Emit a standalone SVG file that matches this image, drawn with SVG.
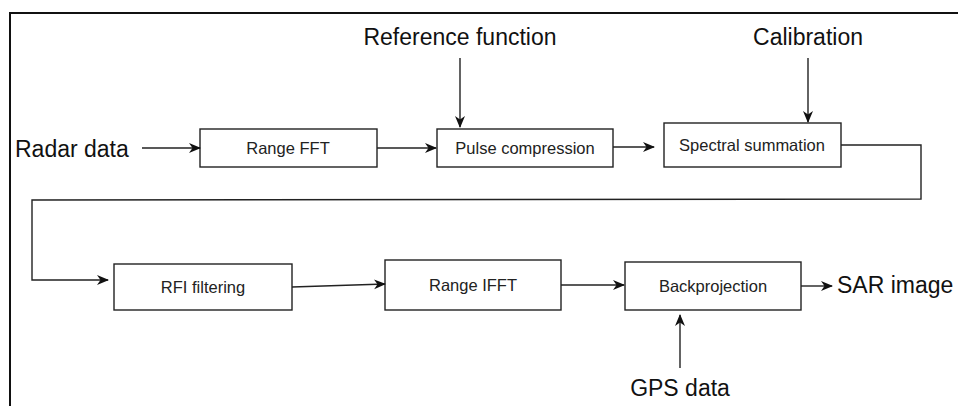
<svg xmlns="http://www.w3.org/2000/svg" width="958" height="406" viewBox="0 0 958 406">
<style>
.box{fill:#fff;stroke:#222;stroke-width:1.4}
.ln{fill:none;stroke:#222;stroke-width:1.4}
.bt{font-family:"Liberation Sans",Arial,sans-serif;font-size:16.5px;fill:#222;text-anchor:middle}
.lt{font-family:"Liberation Sans",Arial,sans-serif;font-size:23px;fill:#111}
</style>
<defs>
<marker id="ah" viewBox="0 0 12 12" refX="11" refY="6" markerWidth="12" markerHeight="12" markerUnits="userSpaceOnUse" orient="auto">
<path d="M0,1 L12,6 L0,11 L3.5,6 Z" fill="#111"/>
</marker>
</defs>
<rect width="958" height="406" fill="#fff"/>
<path d="M10,406 L10,13 L958,13" fill="none" stroke="#111" stroke-width="2"/>
<g id="labels">
<text class="lt" x="15" y="157">Radar data</text>
<text class="lt" x="460" y="45" text-anchor="middle">Reference function</text>
<text class="lt" x="808" y="45" text-anchor="middle">Calibration</text>
<text class="lt" x="837" y="293">SAR image</text>
<text class="lt" x="680" y="396" text-anchor="middle">GPS data</text>
</g>
<g id="range-fft"><rect class="box" x="200" y="129" width="177" height="38"/><text class="bt" x="288" y="154">Range FFT</text></g>
<g id="pulse-compression"><rect class="box" x="437" y="129" width="176" height="38"/><text class="bt" x="525" y="154">Pulse compression</text></g>
<g id="spectral-summation"><rect class="box" x="664" y="123" width="177" height="44"/><text class="bt" x="752" y="151">Spectral summation</text></g>
<g id="rfi-filtering"><rect class="box" x="114" y="264" width="178" height="46"/><text class="bt" x="203" y="293">RFI filtering</text></g>
<g id="range-ifft"><rect class="box" x="385" y="260" width="176" height="50"/><text class="bt" x="473" y="291">Range IFFT</text></g>
<g id="backprojection"><rect class="box" x="625" y="262" width="176" height="48"/><text class="bt" x="713" y="292">Backprojection</text></g>
<g id="connectors">
<path class="ln" d="M142,148 L200,148" marker-end="url(#ah)"/>
<path class="ln" d="M377,148 L436,148" marker-end="url(#ah)"/>
<path class="ln" d="M460,58 L460,127" marker-end="url(#ah)"/>
<path class="ln" d="M613,147 L654,147" marker-end="url(#ah)"/>
<path class="ln" d="M808,58 L808,122" marker-end="url(#ah)"/>
<path class="ln" d="M841,145 L921,145 L921,199 L32,200 L32,280 L108,280" marker-end="url(#ah)"/>
<path class="ln" d="M292,287 L385,284" marker-end="url(#ah)"/>
<path class="ln" d="M561,285 L624,285" marker-end="url(#ah)"/>
<path class="ln" d="M801,286 L832,286" marker-end="url(#ah)"/>
<path class="ln" d="M680,368 L680,315" marker-end="url(#ah)"/>
</g>
</svg>
